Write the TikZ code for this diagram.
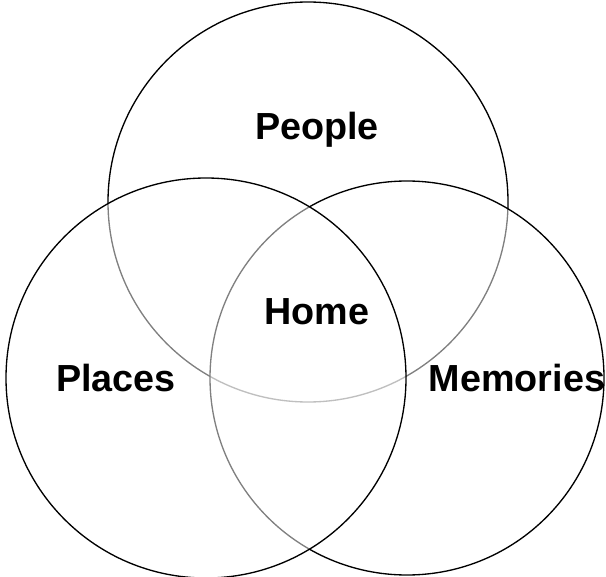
\documentclass[tikz,border=0pt]{standalone}
\usepackage{fontspec}
\setmainfont{Liberation Sans}
\usepackage{tikz}
\usetikzlibrary{positioning}

\tikzset{
  ring/.style={draw=black, line width=1pt, fill=white, fill opacity=0.5},
  tag/.style={font=\fontsize{28.3}{34}\selectfont\bfseries, text opacity=1}
}

\begin{document}
\begin{tikzpicture}[x=0.75pt, y=-0.75pt]
    \useasboundingbox (0,0) rectangle (606,577);
    % the three sets
    \draw[ring] (308,202) circle (200);
    \draw[ring] (407,378) circle (197);
    \draw[ring] (206,378) circle (200);
    \node[tag] (people) at (317,130) {People};
    \node[tag] (home) at (317,312) {Home};
    \node[tag] (places) at (116,378) {Places};
    \node[tag] (memories) at (517,378) {Memories};
  \end{tikzpicture}
\end{document}
